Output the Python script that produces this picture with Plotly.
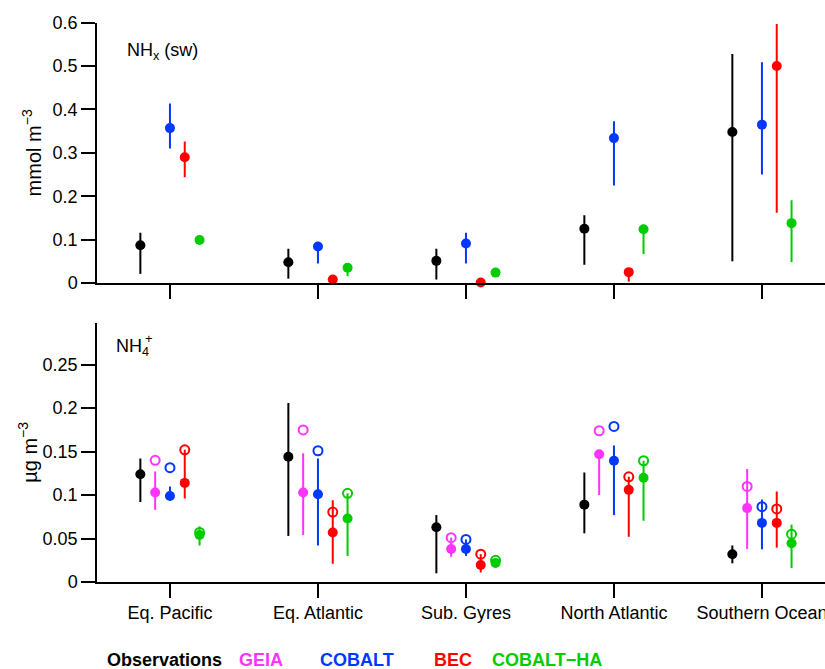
import plotly.graph_objects as go

categories = ["Eq. Pacific", "Eq. Atlantic", "Sub. Gyres", "North Atlantic", "Southern Ocean"]

# ---------- Top panel: NHx (sw), mmol m-3 ----------
top_obs = [0.087, 0.048, 0.051, 0.125, 0.348]
top_obs_hi = [0.116, 0.079, 0.079, 0.156, 0.528]
top_obs_lo = [0.021, 0.010, 0.008, 0.042, 0.050]

top_cobalt = [0.357, 0.084, 0.091, 0.334, 0.365]
top_cobalt_hi = [0.414, 0.086, 0.116, 0.373, 0.509]
top_cobalt_lo = [0.310, 0.045, 0.045, 0.225, 0.250]

top_bec = [0.290, 0.008, 0.001, 0.025, 0.500]
top_bec_hi = [0.326, 0.008, 0.001, 0.025, 0.597]
top_bec_lo = [0.244, 0.008, 0.001, 0.003, 0.162]

top_ha = [0.099, 0.035, 0.024, 0.124, 0.138]
top_ha_hi = [0.099, 0.035, 0.024, 0.124, 0.191]
top_ha_lo = [0.099, 0.016, 0.024, 0.067, 0.048]

# ---------- Bottom panel: NH4+, ug m-3 ----------
bot_obs = [0.124, 0.144, 0.063, 0.089, 0.032]
bot_obs_hi = [0.142, 0.206, 0.077, 0.126, 0.042]
bot_obs_lo = [0.092, 0.053, 0.010, 0.056, 0.0215]

bot_geia = [0.103, 0.103, 0.038, 0.147, 0.085]
bot_geia_hi = [0.127, 0.148, 0.051, 0.147, 0.130]
bot_geia_lo = [0.083, 0.054, 0.029, 0.100, 0.038]
bot_geia_open = [0.140, 0.175, 0.051, 0.174, 0.110]

bot_cobalt = [0.099, 0.101, 0.038, 0.1395, 0.068]
bot_cobalt_hi = [0.110, 0.142, 0.049, 0.157, 0.095]
bot_cobalt_lo = [0.099, 0.042, 0.030, 0.077, 0.0376]
bot_cobalt_open = [0.1315, 0.151, 0.049, 0.179, 0.0866]

bot_bec = [0.114, 0.057, 0.0196, 0.106, 0.068]
bot_bec_hi = [0.152, 0.094, 0.032, 0.121, 0.104]
bot_bec_lo = [0.096, 0.021, 0.011, 0.052, 0.0395]
bot_bec_open = [0.152, 0.0805, 0.032, 0.121, 0.084]

bot_ha = [0.054, 0.073, 0.022, 0.120, 0.0445]
bot_ha_hi = [0.064, 0.102, 0.025, 0.1395, 0.066]
bot_ha_lo = [0.042, 0.030, 0.017, 0.0705, 0.016]
bot_ha_open = [0.057, 0.102, 0.025, 0.1395, 0.055]

legend_names = ["Observations", "GEIA", "COBALT", "BEC", "COBALT\u2212HA"]
colors = ["#000000", "#FF33FF", "#0038FF", "#FF0000", "#00CC00"]
offsets = [-0.2, -0.1, 0.0, 0.1, 0.2]

fig = go.Figure()


def add_series(vals, hi, lo, k, xa, ya, open_vals=None):
    xs = [i + offsets[k] for i in range(len(vals))]
    fig.add_trace(go.Scatter(
        x=xs, y=vals, mode="markers", xaxis=xa, yaxis=ya,
        marker=dict(color=colors[k], size=10, symbol="circle"),
        error_y=dict(type="data", symmetric=False,
                     array=[h - v for h, v in zip(hi, vals)],
                     arrayminus=[v - l for v, l in zip(vals, lo)],
                     color=colors[k], thickness=2, width=0),
        cliponaxis=False, showlegend=False))
    if open_vals is not None:
        fig.add_trace(go.Scatter(
            x=xs, y=open_vals, mode="markers", xaxis=xa, yaxis=ya,
            marker=dict(color=colors[k], size=9, symbol="circle-open",
                        line=dict(width=2, color=colors[k])),
            cliponaxis=False, showlegend=False))


add_series(top_obs, top_obs_hi, top_obs_lo, 0, "x", "y")
add_series(top_cobalt, top_cobalt_hi, top_cobalt_lo, 2, "x", "y")
add_series(top_bec, top_bec_hi, top_bec_lo, 3, "x", "y")
add_series(top_ha, top_ha_hi, top_ha_lo, 4, "x", "y")

add_series(bot_obs, bot_obs_hi, bot_obs_lo, 0, "x2", "y2")
add_series(bot_geia, bot_geia_hi, bot_geia_lo, 1, "x2", "y2", bot_geia_open)
add_series(bot_cobalt, bot_cobalt_hi, bot_cobalt_lo, 2, "x2", "y2", bot_cobalt_open)
add_series(bot_bec, bot_bec_hi, bot_bec_lo, 3, "x2", "y2", bot_bec_open)
add_series(bot_ha, bot_ha_hi, bot_ha_lo, 4, "x2", "y2", bot_ha_open)

W, H = 825, 669
L = 97
FONT = "Liberation Sans, Arial, Helvetica, sans-serif"
xr = [-0.493, 4.426]

axis_common = dict(showgrid=False, zeroline=False, showline=True, linecolor="black",
                   linewidth=1.5, ticks="outside", tickcolor="black", ticklen=14,
                   tickwidth=1.5, automargin=False, ticklabeloverflow="allow",
                   tickfont=dict(size=18, color="black", family=FONT))

fig.update_layout(
    width=W, height=H, paper_bgcolor="white", plot_bgcolor="white",
    margin=dict(l=L, r=0, t=0, b=0, autoexpand=False),
    font=dict(family=FONT, color="black"),
    xaxis=dict(domain=[0, 1], range=xr, anchor="y", tickvals=list(range(5)),
               showticklabels=False, **axis_common),
    yaxis=dict(domain=[1 - 283 / H, 1 - 22.7 / H], range=[0, 0.6], anchor="x",
               tickvals=[0, 0.1, 0.2, 0.3, 0.4, 0.5, 0.6],
               ticktext=["0", "0.1", "0.2", "0.3", "0.4", "0.5", "0.6"],
               title=dict(text="mmol m<sup>\u22123</sup>", font=dict(size=20), standoff=6),
               **axis_common),
    xaxis2=dict(domain=[0, 1], range=xr, anchor="y2", tickvals=list(range(5)),
                ticktext=categories, **axis_common),
    yaxis2=dict(domain=[1 - 582 / H, 1 - 322.7 / H], range=[0, 0.2983], anchor="x2",
                tickvals=[0, 0.05, 0.1, 0.15, 0.2, 0.25],
                ticktext=["0", "0.05", "0.1", "0.15", "0.2", "0.25"],
                title=dict(text="\u00b5g m<sup>\u22123</sup>", font=dict(size=20), standoff=0),
                **axis_common),
)

annotations = [
    dict(text="NH<sub>x</sub> (sw)", x=125, y=H - 52, xref="paper", yref="paper",
         xanchor="left", yanchor="middle", showarrow=False, font=dict(size=18, family=FONT)),
    dict(text="NH<sub>4</sub>", x=114, y=H - 348, xref="paper", yref="paper",
         xanchor="left", yanchor="middle", showarrow=False, font=dict(size=18, family=FONT)),
    dict(text="+", x=143, y=H - 338, xref="paper", yref="paper",
         xanchor="left", yanchor="middle", showarrow=False, font=dict(size=13, family=FONT)),
]
for a in annotations:
    a["x"] = (a["x"] - L) / (W - L)
    a["y"] = a["y"] / H

legend_x = [105, 237, 318, 432, 490]
for name, c, xp in zip(legend_names, colors, legend_x):
    annotations.append(dict(text="<b>" + name + "</b>", x=(xp - L) / (W - L), y=(H - 660) / H,
                            xref="paper", yref="paper", xanchor="left", yanchor="middle",
                            showarrow=False, font=dict(size=18, color=c, family=FONT)))

fig.update_layout(annotations=annotations)
fig.write_html("out.html", config={"displayModeBar": False},
               post_script="document.body.style.margin='0px';"
                           "document.body.style.overflow='hidden';")
